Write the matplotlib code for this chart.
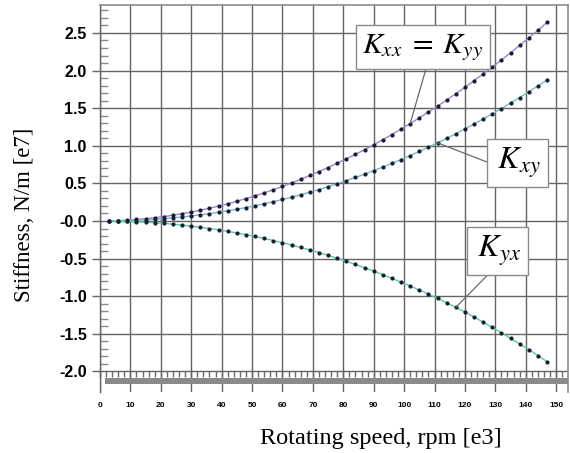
import numpy as np
import matplotlib
matplotlib.use("Agg")
import matplotlib.pyplot as plt
from matplotlib.ticker import FixedLocator, MultipleLocator

plt.rcParams["mathtext.fontset"] = "stix"

# Rotating speed [e3 rpm]
speed = [3, 6, 9, 12, 15, 18, 21, 24, 27, 30, 33, 36, 39, 42, 45, 48, 51,
         54, 57, 60, 63, 66, 69, 72, 75, 78, 81, 84, 87, 90, 93, 96, 99,
         102, 105, 108, 111, 114, 117, 120, 123, 126, 129, 132, 135, 138,
         141, 144, 147]

# Direct stiffness Kxx = Kyy [e7 N/m]
k_xx = [0.001, 0.005, 0.011, 0.020, 0.031, 0.044, 0.059, 0.077, 0.097,
        0.119, 0.143, 0.170, 0.198, 0.229, 0.262, 0.298, 0.335, 0.375,
        0.416, 0.460, 0.506, 0.554, 0.605, 0.657, 0.711, 0.767, 0.826,
        0.886, 0.949, 1.014, 1.081, 1.150, 1.223, 1.296, 1.372, 1.448,
        1.527, 1.610, 1.692, 1.777, 1.867, 1.956, 2.047, 2.139, 2.237,
        2.335, 2.433, 2.535, 2.641]

# Cross-coupled stiffness Kxy [e7 N/m]
k_xy = [0.001, 0.002, 0.005, 0.010, 0.016, 0.023, 0.032, 0.042, 0.053,
        0.067, 0.081, 0.098, 0.116, 0.135, 0.156, 0.179, 0.203, 0.229,
        0.257, 0.286, 0.316, 0.349, 0.383, 0.418, 0.456, 0.495, 0.536,
        0.579, 0.623, 0.669, 0.717, 0.766, 0.817, 0.870, 0.925, 0.981,
        1.039, 1.099, 1.160, 1.225, 1.289, 1.357, 1.425, 1.495, 1.569,
        1.642, 1.718, 1.796, 1.875]

# Cross-coupled stiffness Kyx [e7 N/m]
k_yx = [-0.001, -0.003, -0.006, -0.010, -0.016, -0.023, -0.032, -0.043,
        -0.055, -0.069, -0.084, -0.100, -0.118, -0.138, -0.159, -0.182,
        -0.206, -0.232, -0.260, -0.289, -0.319, -0.351, -0.385, -0.420,
        -0.457, -0.496, -0.536, -0.578, -0.622, -0.667, -0.714, -0.763,
        -0.813, -0.865, -0.918, -0.973, -1.030, -1.088, -1.148, -1.212,
        -1.277, -1.345, -1.415, -1.487, -1.560, -1.635, -1.710, -1.790,
        -1.870]

x_ticks = list(range(0, 151, 10))
y_ticks = [-2.0, -1.5, -1.0, -0.5, 0.0, 0.5, 1.0, 1.5, 2.0, 2.5]
y_ticklabels = ["-2.0", "-1.5", "-1.0", "-0.5", "-0.0", "0.5", "1.0",
                "1.5", "2.0", "2.5"]

grid_c = "#646464"
frame_c = "#8c8c8c"

fig = plt.figure(figsize=(5.70, 4.53), dpi=100)
ax = fig.add_axes([100 / 570, 1 - 392 / 453, 468 / 570, 387 / 453])
ax.set_xlim(0, 153.9)
ax.set_ylim(-2.274, 2.872)
ax.set_axisbelow(True)

# curves
dot = "#1a1a33"
ax.plot(speed, k_xx, color="#a47fd0", lw=1.0, marker="o", ms=2.0,
        mfc=dot, mec=dot, zorder=3)
ax.plot(speed, k_xy, color="#6fbccb", lw=1.0, marker="o", ms=2.0,
        mfc=dot, mec=dot, zorder=3)
ax.plot(speed, k_yx, color="#55cf9c", lw=1.0, marker="o", ms=2.0,
        mfc=dot, mec=dot, zorder=3)

# grid and frame
ax.set_xticks(x_ticks)
ax.set_yticks(y_ticks)
ax.set_yticklabels(y_ticklabels)
ax.grid(True, which="major", color=grid_c, lw=1.0)
ax.yaxis.set_minor_locator(FixedLocator(np.round(np.arange(-1.9, 2.85, 0.1), 2)))
ax.tick_params(axis="y", which="major", direction="out", length=5.5,
               color=grid_c, width=1.0, pad=4)
ax.tick_params(axis="y", which="minor", direction="in", length=6,
               color="#8a8a8a", width=1.0)
ax.tick_params(axis="x", which="major", length=0, pad=7.5)
for lab in ax.get_yticklabels():
    lab.set_fontfamily("Liberation Sans")
    lab.set_fontweight("bold")
    lab.set_fontsize(11.5)
for lab in ax.get_xticklabels():
    lab.set_fontfamily("Liberation Sans")
    lab.set_fontweight("bold")
    lab.set_fontsize(6)
ax.spines["bottom"].set_visible(False)
for s in ("top", "right"):
    ax.spines[s].set_color(frame_c)
    ax.spines[s].set_linewidth(1.2)
ax.spines["left"].set_color(grid_c)
ax.spines["left"].set_linewidth(1.0)

# small ticks hanging below the -2.0 line
sec = ax.secondary_xaxis(-2.0, transform=ax.transData)
sec.spines["bottom"].set_visible(False)
sec.set_xticks([])
sec.xaxis.set_minor_locator(MultipleLocator(2))
sec.tick_params(which="minor", direction="out", length=4, color="#6a6a6a",
                width=1.0)

# shaded base band
ax.axhspan(-2.168, -2.09, xmin=5 / 468, xmax=1.0, color="#8a8a8a", lw=0,
           zorder=1)

ax.set_xlabel("Rotating speed, rpm [e3]", family="Liberation Serif",
              fontsize=17.5)
ax.xaxis.set_label_coords(0.600, -0.092)
ax.set_ylabel("Stiffness, N/m [e7]", family="Liberation Serif",
              fontsize=16.5)
ax.yaxis.set_label_coords(-0.139, 0.457)

box = dict(boxstyle="square,pad=0.22", fc="white", ec="#8a8a8a", lw=1.0)
lead = dict(arrowstyle="-", color="#6a6a6a", lw=0.9, shrinkA=0, shrinkB=0)

ax.annotate(r"$K_{xx}\;=\;K_{yy}$", xy=(speed[33], k_xx[33]),
            xytext=(106.2, 2.31), ha="center", va="center", fontsize=21.5,
            bbox=box, arrowprops=dict(lead, relpos=(0.54, 0.0)), zorder=5)
ax.annotate(r"$\,K_{xy}\,$", xy=(speed[36], k_xy[36]), xytext=(137.3, 0.77),
            ha="center", va="center", fontsize=23, bbox=box,
            arrowprops=dict(lead, relpos=(0.0, 0.45)), zorder=5)
ax.annotate(r"$\,K_{yx}\,$", xy=(speed[38], k_yx[38]), xytext=(130.6, -0.40),
            ha="center", va="center", fontsize=23, bbox=box,
            arrowprops=dict(lead, relpos=(0.44, 0.0)), zorder=5)

fig.savefig("out.png", dpi=100)
